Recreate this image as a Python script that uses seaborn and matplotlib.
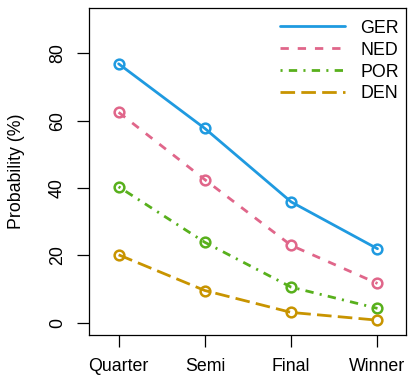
import matplotlib
matplotlib.use("Agg")
import matplotlib.pyplot as plt
import seaborn as sns
import pandas as pd

# Tournament stage reached, probability in percent
stages = ["Quarter", "Semi", "Final", "Winner"]
teams = ["GER", "NED", "POR", "DEN"]
ger = [76.9, 57.7, 35.9, 22.0]
ned = [62.5, 42.5, 23.0, 11.7]
por = [40.4, 23.9, 10.6, 4.3]
den = [20.2, 9.6, 3.1, 0.8]
y_ticks = [0, 20, 40, 60, 80]

colors = {"GER": "#1f9ae0", "NED": "#e0668a", "POR": "#58b01c", "DEN": "#c89400"}
linestyles = {
    "GER": "-",
    "NED": (0, (3.0, 3.2)),
    "POR": (0, (0.75, 2.25, 3.0, 2.25)),
    "DEN": (0, (5.25, 2.25)),
}

df = pd.DataFrame({
    "stage": stages * 4,
    "team": [t for t in teams for _ in stages],
    "prob": ger + ned + por + den,
})

FS = 12.8
sns.set_style("ticks")
plt.rcParams["font.family"] = ["Liberation Sans", "DejaVu Sans"]
plt.rcParams["font.size"] = FS
plt.rcParams["text.color"] = "black"
plt.rcParams["axes.labelcolor"] = "black"
plt.rcParams["xtick.color"] = "black"
plt.rcParams["ytick.color"] = "black"

fig = plt.figure(figsize=(4.08, 3.77), dpi=100)
ax = fig.add_axes([0.218, 0.1114, 0.777, 0.8686])

for team in teams:
    sub = df[df["team"] == team]
    sns.lineplot(
        data=sub, x="stage", y="prob", ax=ax,
        color=colors[team], linestyle=linestyles[team], linewidth=2,
        marker="o", markersize=7, markerfacecolor="none",
        markeredgecolor=colors[team], markeredgewidth=1.8,
        label=team, sort=False,
    )

ax.set_xlim(-0.344, 3.33)
ax.set_ylim(-3.6, 93.6)
ax.set_xticks(range(len(stages)))
ax.set_xticklabels(stages, color="black")
ax.set_yticks(y_ticks)
ax.set_yticklabels([str(v) for v in y_ticks], rotation=90, va="center",
                   color="black")
ax.set_xlabel("")
ax.set_ylabel("")
fig.text(0.04, 0.545, "Probability (%)", rotation=90, ha="center", va="center",
         fontsize=FS, color="black")

for s in ax.spines.values():
    s.set_visible(True)
    s.set_linewidth(0.9)
    s.set_color("black")
ax.tick_params(axis="both", direction="out", length=8.5, width=0.9,
               colors="black", labelsize=FS, pad=8)

leg = ax.legend(loc="upper right", frameon=False, fontsize=FS,
                handlelength=3.65, handletextpad=0.85, labelspacing=0.28,
                borderaxespad=0.0, bbox_to_anchor=(1.0, 0.985))
for h in leg.legend_handles:
    h.set_marker("")
for t in leg.get_texts():
    t.set_color("black")

fig.savefig("out.png", dpi=100)
